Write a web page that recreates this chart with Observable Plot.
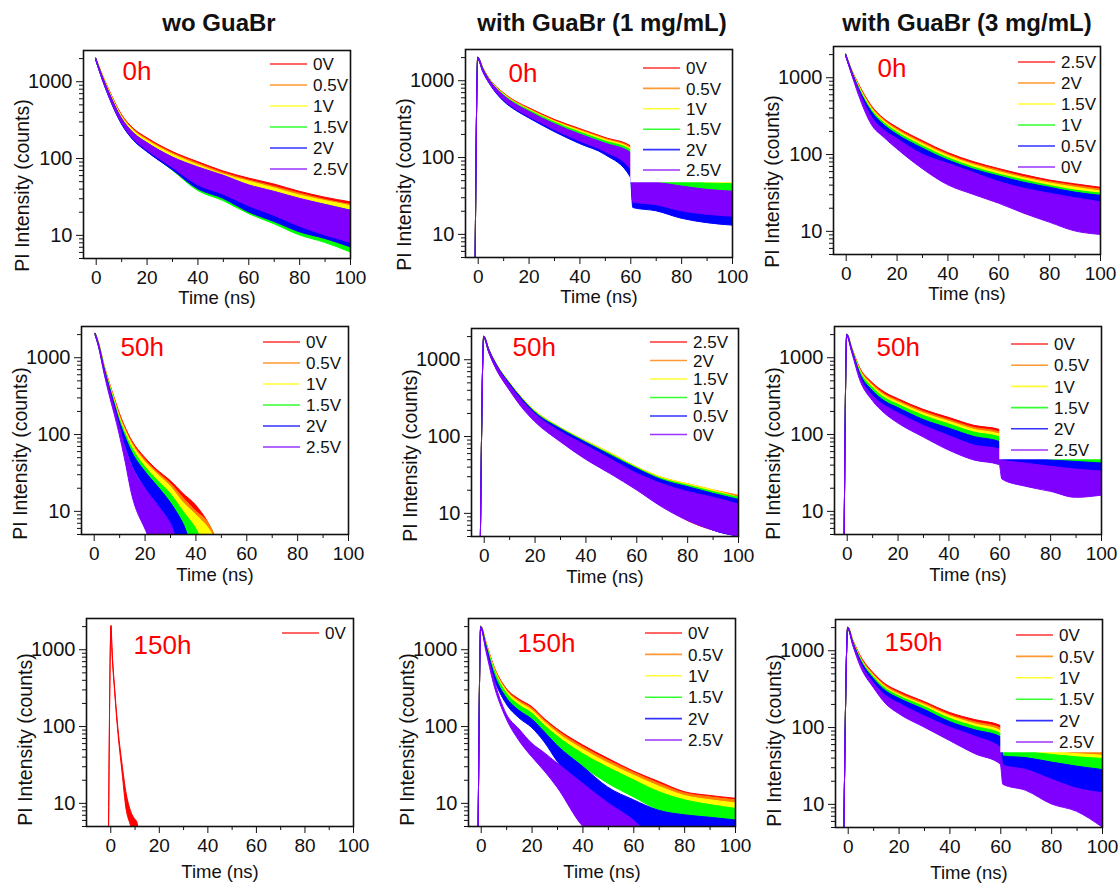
<!DOCTYPE html>
<html><head><meta charset="utf-8">
<script src="https://cdn.jsdelivr.net/npm/d3@7"></script>
<script src="https://cdn.jsdelivr.net/npm/@observablehq/plot@0.6"></script>
<style>
body{margin:0;background:#fff;}
#fig{position:relative;width:1120px;height:888px;background:#fff;font-family:"Liberation Sans",Arial,sans-serif;overflow:hidden;}
.title{position:absolute;font-weight:bold;font-size:24px;transform:translate(-50%,-50%);white-space:nowrap;color:#111;}
</style></head><body><div id="fig"></div>
<script>
// ---------- shared data ----------
const colors = ["#ff0000","#ff8000","#ffff00","#00ff00","#0000ff","#8000ff"];
const columnTitles = ["wo GuaBr","with GuaBr (1 mg/mL)","with GuaBr (3 mg/mL)"];
const yMajor = [10,100,1000];
const yMinor = [5,6,7,8,9,20,30,40,50,60,70,80,90,200,300,400,500,600,700,800,900,2000];
const xMajor = [0,20,40,60,80,100];
const xMinor = [10,30,50,70,90];
const voltsUp = ["0V","0.5V","1V","1.5V","2V","2.5V"];
const voltsDown = ["2.5V","2V","1.5V","1V","0.5V","0V"];
const ages = ["0h","50h","150h"];

// ---------- panel 1: wo GuaBr, 0h ----------
const p1Time = [0,2,5,10,15,20,30,40,50,60,70,80,90,100];
const p1Hi = [
  [2000,1350,800,375,240,185,122,90,68,55,46,37,31,27],
  [2000,1340,785,365,232,178,117,86,65,52,43,35,29,25],
  [2000,1330,770,355,225,172,113,82,62,50,41,33,28,24],
  [1990,1300,740,335,210,158,102,74,56,44,36,29,25,21],
  [1990,1290,730,330,205,155,100,72,54,43,35,28,24,20],
  [1990,1290,735,335,210,160,104,77,60,45,37,30,25,21]];
const p1Lo = [
  [1900,1250,720,330,205,155,98,68,50,40,32,25,21,18],
  [1900,1240,705,320,198,148,93,64,47,37,29,23,19,16],
  [1900,1230,690,312,192,143,90,61,45,35,27,21,17,14],
  [1890,1200,650,285,170,125,70,38,28,19,14,10,8,6],
  [1890,1190,645,282,168,122,71,40,30,20,15,11,9,7],
  [1890,1190,650,290,174,128,76,45,34,24,18,13,10,8]];

// ---------- panel 2: 1 mg/mL, 0h ----------
const p2Time = [-1,0,2,5,10,15,20,30,40,50,60,61,70,80,90,100];
const p2Hi = [
  [5,2000,1450,1000,690,530,440,310,235,180,140,58,55,52,50,50],
  [5,2000,1440,990,680,520,430,300,228,175,135,57,54,50,48,48],
  [5,2000,1430,980,670,510,420,295,222,170,130,56,53,49,47,47],
  [5,2000,1420,970,655,500,410,285,212,162,124,55,52,48,46,45],
  [5,1990,1400,950,630,475,385,265,195,148,110,48,45,40,36,33],
  [5,1990,1410,960,640,485,395,272,200,152,115,50,47,42,38,36]];
const p2Lo = [
  [5,1900,1350,930,610,470,390,270,200,150,112,42,40,36,33,32],
  [5,1900,1340,920,600,460,380,262,192,145,108,40,38,34,31,30],
  [5,1900,1330,910,590,450,372,255,186,140,104,39,37,33,30,29],
  [5,1890,1320,900,575,440,360,245,176,132,96,37,35,31,28,27],
  [5,1880,1290,860,540,405,325,215,150,108,55,22,20,16,14,13],
  [5,1880,1300,870,560,420,340,228,162,118,70,26,24,20,18,17]];

// ---------- panel 3: 3 mg/mL, 0h ----------
const p3Time = [0,2,5,10,15,20,30,40,50,60,70,80,90,100];
const p3Hi = [
  [2000,1320,820,430,290,225,150,105,80,65,54,46,41,37],
  [2000,1310,800,415,280,215,143,100,76,62,51,44,39,35],
  [2000,1300,780,400,270,206,137,96,73,59,49,42,37,33],
  [1990,1290,750,380,255,195,128,90,68,55,46,39,34,31],
  [1990,1280,720,360,240,182,120,84,64,52,43,37,32,29],
  [1980,1260,680,310,205,160,100,76,58,44,36,31,27,24]];
const p3Lo = [
  [1900,1240,740,380,250,190,125,86,64,51,42,35,30,27],
  [1900,1230,720,365,240,182,118,82,61,48,40,33,28,25],
  [1900,1220,700,350,230,175,113,78,58,46,38,31,26,23],
  [1890,1200,670,330,215,163,105,72,53,42,34,27,22,19],
  [1890,1190,640,310,200,150,96,64,46,36,28,21,17,14],
  [1880,1170,590,245,165,118,65,40,30,23,17,13,10,9]];

// ---------- panel 4: wo GuaBr, 50h ----------
const p4Time = [0.6,2,4,6,8,10,12,15,20,25,30,35,40,45,50];
const p4Hi = [
  [2050,1500,800,480,300,190,130,82,50,34,25,17,12,7,3],
  [2050,1490,790,470,290,180,124,78,47,32,23,15,10,7,3],
  [2050,1480,780,460,280,172,118,74,44,30,21,13,9,6,3],
  [2040,1460,760,440,265,160,108,66,38,25,17,10,6,3,3],
  [2040,1440,740,420,250,148,98,58,33,21,13,7,3,3,3],
  [2030,1420,710,390,225,128,72,38,20,12,7,3,3,3,3]];
const p4Lo = [
  [1950,1400,720,420,260,160,105,64,36,22,14,8,4,3,3],
  [1950,1390,710,410,250,152,100,60,33,20,12,7,4,3,3],
  [1950,1380,700,400,240,145,95,56,30,18,11,6,3,3,3],
  [1940,1360,680,380,225,134,86,48,25,14,8,4,3,3,3],
  [1940,1340,660,360,210,122,76,40,20,10,5,3,3,3,3],
  [1930,1320,630,330,185,100,50,16,6,3,3,3,3,3,3]];

// ---------- panel 5: 1 mg/mL, 50h ----------
const p5Time = [-1.3,0,2,5,10,15,20,30,40,50,60,70,80,90,100];
const p5Hi = [
  [5,1980,1330,840,480,300,205,124,82,55,37,27,22,18,15],
  [5,2000,1350,860,500,315,215,130,87,60,40,29,24,20,17],
  [5,2000,1350,860,500,315,215,130,87,60,40,29,24,20,16],
  [5,2000,1345,855,495,310,210,128,85,58,39,28,23,19,16],
  [5,1990,1340,850,490,305,205,125,83,56,38,27,22,18,15],
  [5,1990,1320,830,470,290,195,115,76,50,33,24,19,16,13]];
const p5Lo = [
  [5,1900,1230,740,410,245,165,90,55,35,22,13,8,6,5],
  [5,1920,1250,760,425,255,170,95,60,38,24,15,10,7,6],
  [5,1920,1250,760,425,255,172,96,60,38,24,15,10,7,6],
  [5,1920,1245,755,420,250,168,94,58,37,23,14,9,7,5.5],
  [5,1910,1240,750,415,245,164,92,56,35,22,13,9,6,5],
  [5,1910,1220,730,400,235,155,85,50,32,20,12,8,6,5]];

// ---------- panel 6: 3 mg/mL, 50h ----------
const p6Time = [-1,0,2,5,10,15,20,30,40,50,60,61,70,80,90,100];
const p6Hi = [
  [5,2000,1320,740,470,350,290,210,165,130,115,90,85,80,76,72],
  [5,2000,1310,720,450,330,275,198,155,122,107,84,80,75,71,68],
  [5,2000,1300,700,430,315,262,188,147,115,100,78,74,70,66,63],
  [5,1995,1290,670,405,295,245,175,136,106,92,72,68,64,60,58],
  [5,1990,1270,630,370,268,222,155,120,93,80,52,49,46,44,42],
  [5,1985,1240,580,320,235,190,130,96,72,64,46,42,38,35,33]];
const p6Lo = [
  [5,1920,1230,680,420,310,250,180,140,108,92,66,62,58,55,52],
  [5,1920,1220,660,400,290,237,170,130,100,85,62,58,54,51,49],
  [5,1920,1210,640,380,276,225,160,122,94,80,58,54,51,48,46],
  [5,1915,1200,610,355,256,208,148,112,86,73,52,49,46,44,42],
  [5,1910,1180,570,320,230,182,128,95,72,60,34,31,29,27,27],
  [5,1900,1150,520,275,185,140,92,62,46,40,26,21,18,15,16]];

// ---------- panel 7: wo GuaBr, 150h ----------
const p7Time = [-0.7,0.3,0.7,1.8,3,4.8,6.6,8,9,10,11,12];
const p7Hi = [[5,2050,1050,310,105,33,13,8.5,7,6.2,5.6,3]];
const p7Lo = [[5,1980,950,280,92,26,8,5.5,4.5,4,3,3]];

// ---------- panel 8: 1 mg/mL, 150h ----------
const p8Time = [-1,0,2,5,10,15,20,25,30,40,50,60,70,80,90,100];
const p8Hi = [
  [5,2000,1250,620,310,225,180,125,92,57,38,26,19,14,12.5,11.5],
  [5,2000,1240,610,300,215,172,120,88,54,36,25,18,13.5,12,11],
  [5,2000,1220,590,290,205,162,113,82,50,33,23,16.5,12.5,11,10],
  [5,1990,1190,560,270,188,148,102,74,44,29,20,14,11,9.5,8.5],
  [5,1980,1140,500,235,160,124,84,56,30,16,11,8,7,6.5,6],
  [5,1960,1060,420,145,92,60,45,33,18,10,6,3,3,3,3]];
const p8Lo = [
  [5,1920,1150,560,270,190,150,100,72,42,27,18,12,9,8,7],
  [5,1920,1140,550,262,182,142,95,68,39,25,16,11,8,7,6],
  [5,1920,1120,530,250,172,134,88,62,36,22,14,10,7,6,5.5],
  [5,1910,1090,500,230,156,120,78,54,30,18,12,8,6,5,4.5],
  [5,1900,1040,440,195,128,96,62,35,15,9,5.5,4,3,3,3],
  [5,1880,960,360,125,65,40,26,16,5,3,3,3,3,3,3]];

// ---------- panel 9: 3 mg/mL, 150h ----------
const p9Time = [-1.5,0,2,5,10,15,20,30,40,50,60,61,70,80,90,100];
const p9Hi = [
  [5,2000,1360,840,510,360,295,215,155,125,105,62,60,57,55,52],
  [5,2000,1340,810,490,345,280,205,146,117,97,58,56,52,49,47],
  [5,2000,1320,790,475,330,268,195,140,110,90,54,52,48,45,43],
  [5,1995,1300,770,455,315,255,185,130,102,83,50,48,44,41,39],
  [5,1990,1280,740,430,295,238,170,118,92,75,42,40,35,31,28],
  [5,1985,1250,690,380,255,205,140,100,76,54,32,28,21,16,14]];
const p9Lo = [
  [5,1920,1260,770,460,320,260,185,130,100,82,40,38,36,35,34],
  [5,1920,1240,740,440,305,245,175,122,93,76,37,35,33,31,30],
  [5,1920,1220,720,425,290,232,165,115,87,70,34,32,30,28,26],
  [5,1915,1200,700,405,275,220,155,107,80,63,31,30,27,24,22],
  [5,1910,1180,670,380,258,204,140,95,70,55,26,24,20,16,14],
  [5,1900,1150,610,330,200,150,100,67,45,33,18,15,10,8,5]];

// region hidden behind the white legend box (time from, counts below)
const legendBoxCover = {x1: 60, x2: 100, y1: 47, y2: 2550};

// ---------- layout ----------
const panels = [
  {time:p1Time, hi:p1Hi, lo:p1Lo, labels:voltsUp,   age:ages[0], fl:83,  ft:50,  xMin:-5, ageDx:39, ageDy:21, legX:187, legY:14, legGap:21,   timeDy:40, labDy:31},
  {time:p2Time, hi:p2Hi, lo:p2Lo, labels:voltsUp,   age:ages[0], fl:465, ft:49,  xMin:-5, ageDx:43, ageDy:24, legX:178, legY:19, legGap:20.4, timeDy:40, labDy:31, cover:true},
  {time:p3Time, hi:p3Hi, lo:p3Lo, labels:voltsDown, age:ages[0], fl:833, ft:46,  xMin:-5, ageDx:44, ageDy:22, legX:185, legY:16, legGap:21,   timeDy:40, labDy:31},
  {time:p4Time, hi:p4Hi, lo:p4Lo, labels:voltsUp,   age:ages[1], fl:81,  ft:326, xMin:-5, ageDx:39, ageDy:21, legX:182, legY:16, legGap:21,   timeDy:41, labDy:23},
  {time:p5Time, hi:p5Hi, lo:p5Lo, labels:voltsDown, age:ages[1], fl:471, ft:328, xMin:-5, ageDx:41, ageDy:19, legX:179, legY:14, legGap:18.5, timeDy:41, labDy:23},
  {time:p6Time, hi:p6Hi, lo:p6Lo, labels:voltsUp,   age:ages[1], fl:834, ft:326, xMin:-5, ageDx:42, ageDy:21, legX:177, legY:18, legGap:21.2, timeDy:41, labDy:23, cover:true},
  {time:p7Time, hi:p7Hi, lo:p7Lo, labels:["0V"],    age:ages[2], fl:86,  ft:618, xMin:-10,ageDx:47, ageDy:27, legX:196, legY:15, legGap:21,   timeDy:46, labDy:17},
  {time:p8Time, hi:p8Hi, lo:p8Lo, labels:voltsUp,   age:ages[2], fl:468, ft:618, xMin:-5, ageDx:49, ageDy:25, legX:177, legY:15, legGap:21.4, timeDy:46, labDy:17},
  {time:p9Time, hi:p9Hi, lo:p9Lo, labels:voltsUp,   age:ages[2], fl:835, ft:619, xMin:-5, ageDx:49, ageDy:23, legX:181, legY:16, legGap:21.4, timeDy:46, labDy:17, cover:true}
];
const titleCenters = [219, 602, 967];

const fig = document.getElementById("fig");
columnTitles.forEach((t,i) => {
  const d = document.createElement("div");
  d.className = "title";
  d.textContent = t;
  d.style.left = titleCenters[i] + "px";
  d.style.top = "23px";
  fig.appendChild(d);
});

const ML = 75, MR = 12, MT = 8, MB = 56, FW = 267, FH = 208;

panels.forEach(cfg => {
  const marks = [];
  cfg.hi.forEach((hiArr, s) => {
    const rows = cfg.time.map((t, i) => ({t, hi: hiArr[i], lo: cfg.lo[s][i]}));
    marks.push(Plot.areaY(rows, {x: "t", y1: "lo", y2: "hi", fill: colors[s], stroke: colors[s], strokeWidth: 1, curve: "monotone-x", clip: true}));
  });
  if (cfg.cover) marks.push(Plot.rect([legendBoxCover], {x1: "x1", x2: "x2", y1: "y1", y2: "y2", fill: "white"}));
  marks.push(Plot.axisY(yMajor, {tickSize: 7, tickPadding: 4, tickFormat: d => String(d), fontSize: 20, label: null}));
  marks.push(Plot.axisY(yMinor, {tickSize: 4, tickFormat: () => "", label: null}));
  marks.push(Plot.axisX(xMajor, {tickSize: 7, tickPadding: 5, tickFormat: d => String(d), fontSize: 19, label: null}));
  marks.push(Plot.axisX(xMinor, {tickSize: 4, tickFormat: () => "", label: null}));
  marks.push(Plot.frame({stroke: "#111", strokeWidth: 1.6}));
  marks.push(Plot.text([cfg.age], {frameAnchor: "top-left", dx: cfg.ageDx, dy: cfg.ageDy, fill: "#ff0000", fontSize: 26, textAnchor: "start", lineAnchor: "middle"}));
  marks.push(Plot.text(["PI Intensity (counts)"], {frameAnchor: "left", dx: -61, dy: cfg.labDy, rotate: -90, fontSize: 19.5, textAnchor: "middle", lineAnchor: "middle"}));
  marks.push(Plot.text(["Time (ns)"], {frameAnchor: "bottom", dy: cfg.timeDy, fontSize: 18.5, textAnchor: "middle", lineAnchor: "middle"}));

  const svg = Plot.plot({
    width: ML + FW + MR, height: MT + FH + MB,
    marginLeft: ML, marginRight: MR, marginTop: MT, marginBottom: MB,
    x: {domain: [cfg.xMin, 100]},
    y: {type: "log", domain: [5, 2550]},
    style: {fontFamily: "'Liberation Sans', Arial, sans-serif", fontSize: "18px", color: "#111", background: "transparent", overflow: "visible"},
    marks
  });
  // legend (inside frame, upper right)
  const g = d3.select(svg).append("g").attr("text-anchor", "start");
  cfg.labels.forEach((lab, i) => {
    const y = MT + cfg.legY + i * cfg.legGap;
    const x0 = ML + cfg.legX;
    g.append("line").attr("x1", x0).attr("x2", x0 + 37).attr("y1", y).attr("y2", y)
      .attr("stroke", colors[i]).attr("stroke-width", 1.6).attr("stroke-opacity", 0.8);
    g.append("text").attr("x", x0 + 43).attr("y", y).attr("dy", "0.36em")
      .attr("text-anchor", "start").attr("font-size", 17).attr("fill", "#111").text(lab);
  });
  svg.style.position = "absolute";
  svg.style.left = (cfg.fl - ML) + "px";
  svg.style.top = (cfg.ft - MT) + "px";
  fig.appendChild(svg);
});
</script></body></html>
